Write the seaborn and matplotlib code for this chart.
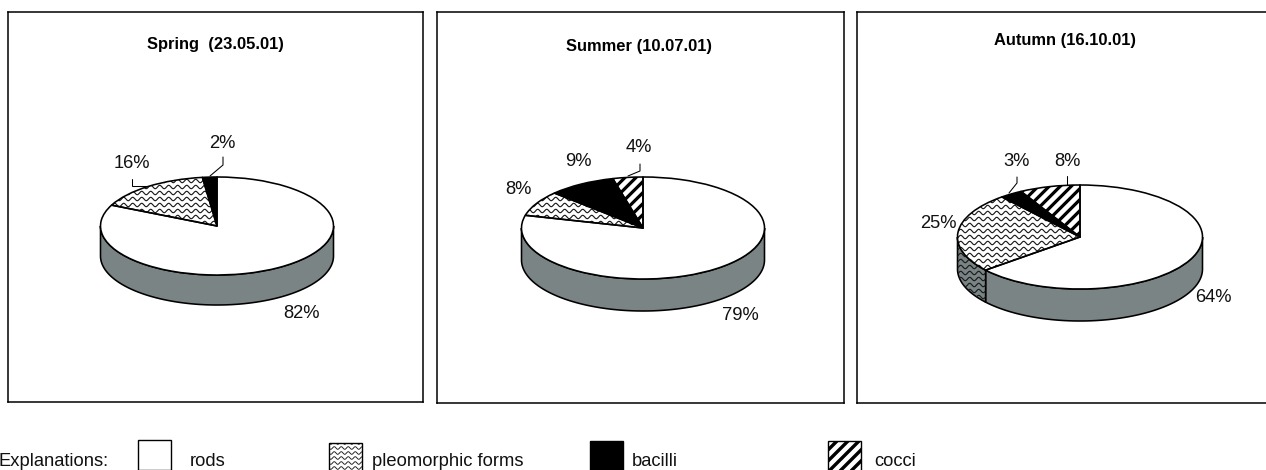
import numpy as np
import pandas as pd
import seaborn as sns
import matplotlib
matplotlib.use("Agg")
import matplotlib.pyplot as plt
from matplotlib.lines import Line2D
from matplotlib.patches import PathPatch, Polygon, Rectangle

# Cell-type shares per sampling date, in percent
seasons = ["Spring  (23.05.01)", "Summer (10.07.01)", "Autumn (16.10.01)"]
categories = ["rods", "pleomorphic forms", "bacilli", "cocci"]
rods = [82, 79, 64]
pleomorphic = [16, 8, 25]
bacilli = [2, 9, 3]
cocci = [0, 4, 8]

W, H = 1266, 470
WALL = "#7a8484"

sns.set_theme(style="white", rc={"axes.facecolor": "white"})
plt.rcParams["font.family"] = ["Liberation Sans", "DejaVu Sans"]

shares = pd.DataFrame({"rods": rods, "pleomorphic forms": pleomorphic,
                       "bacilli": bacilli, "cocci": cocci}, index=seasons)

# Panel frame, disc geometry, title and label placement, all in pixels
panels = [
    dict(box=(8, 12, 423, 402), c=(217, 226), rx=116.5, ry=49, depth=30, title=(215, 44),
         labels=[(302, 313), (132, 164), (222, 143), None],
         leaders=[None, [(132, 179), (132, 186), (147, 186)],
                  [(223, 157), (223, 165), (210, 176)], None]),
    dict(box=(437, 12, 844, 403), c=(643, 228), rx=121.5, ry=51, depth=32, title=(639, 47),
         labels=[(740, 316), (518, 190), (578, 162), (639, 148)],
         leaders=[None, None, None, [(640, 164), (640, 171), (628, 176)]]),
    dict(box=(857, 12, 1275, 403), c=(1080, 237), rx=122.5, ry=52, depth=32, title=(1065, 40),
         labels=[(1213, 297), (938, 223), (1017, 162), (1067, 162)],
         leaders=[None, None, [(1017, 177), (1017, 183), (1009, 193)],
                  [(1067, 176), (1067, 185)]]),
]

fig = plt.figure(figsize=(W / 100, H / 100), dpi=100, facecolor="white")
overlay = fig.add_axes([0, 0, 1, 1], zorder=10)
overlay.set_xlim(0, W)
overlay.set_ylim(H, 0)
overlay.axis("off")
overlay.patch.set_alpha(0)


def waves(ax, clip, extent, color="#1a1a1a", row=6.0, length=9.0, amp=1.7, lw=1.15):
    """Fill a patch with rows of horizontal wavy lines."""
    x0, y0, x1, y1 = extent
    xs = np.arange(x0, x1 + 0.5, 0.5)
    for y in np.arange(y0, y1 + row, row):
        line = Line2D(xs, y + amp * np.sin(2 * np.pi * xs / length), color=color,
                      lw=lw * 0.72, transform=overlay.transData, zorder=1.5)
        ax.add_line(line)
        line.set_clip_path(clip)


def stripes(ax, clip, extent, spacing=11.0, lw=3.2):
    """Fill a patch with thick rising diagonal stripes."""
    x0, y0, x1, y1 = extent
    span = (x1 - x0) + (y1 - y0)
    for s in np.arange(x0 - 2, x0 + span + spacing, spacing):
        line = Line2D([s - (y1 - y0), s], [y1, y0], color="black", lw=lw * 0.72,
                      transform=overlay.transData, zorder=1.5, solid_capstyle="butt")
        ax.add_line(line)
        line.set_clip_path(clip)


for season, p in zip(seasons, panels):
    l, t, r, b = p["box"]
    cx, cy = p["c"]
    rx, ry = p["rx"], p["ry"]
    ax = fig.add_axes([l / W, 1 - b / H, (r - l) / W, (b - t) / H])
    values = shares.loc[season].to_numpy(dtype=float)
    kept = [i for i, v in enumerate(values) if v > 0]
    fills = {0: "white", 1: "white", 2: "black", 3: "white"}
    wedges, _ = ax.pie(values[kept], startangle=90, counterclock=False, radius=1,
                       colors=[fills[i] for i in kept],
                       wedgeprops=dict(edgecolor="none", linewidth=0))
    # The pie call fixes an equal aspect; the tilted disc needs independent scales
    ax.set_aspect("auto")
    ax.set_xlim((l - cx) / rx, (r - cx) / rx)
    ax.set_ylim((cy - b) / ry, (cy - t) / ry)
    ax.set_frame_on(True)
    for spine in ax.spines.values():
        spine.set_visible(True)
        spine.set_color("black")
        spine.set_linewidth(1.1)
    ax.set_xticks([])
    ax.set_yticks([])

    extent = (cx - rx - 2, cy - ry - 2, cx + rx + 2, cy + ry + p["depth"] + 2)
    for i, w in zip(kept, wedges):
        w.set_zorder(1)
        if categories[i] == "pleomorphic forms":
            waves(ax, w, extent)
        elif categories[i] == "cocci":
            stripes(ax, w, extent)
        # Outline on top of the texture
        ax.add_patch(PathPatch(w.get_path(), fill=False, ec="black", lw=1.15, zorder=3,
                               transform=w.get_transform(), joinstyle="round"))

    # Side wall: the part of each slice's rim on the near half of the disc
    edges = np.r_[0, np.cumsum(values)] * 3.6
    dy = p["depth"] / ry
    for i in range(len(values)):
        start, stop = max(edges[i], 90), min(edges[i + 1], 270)
        if stop <= start:
            continue
        theta = np.radians(np.linspace(start, stop, 120))
        x, y = np.sin(theta), np.cos(theta)
        outline = np.c_[np.r_[x, x[::-1]], np.r_[y, y[::-1] - dy]]
        wall = Polygon(outline, closed=True, fc=WALL, ec="black", lw=1.15, zorder=0.5)
        ax.add_patch(wall)
        if categories[i] == "pleomorphic forms":
            waves(ax, wall, extent)

    overlay.text(*p["title"], season, ha="center", va="center", fontsize=11.9, fontweight="bold",
                 color="black")
    for v, pos, leader in zip(values, p["labels"], p["leaders"]):
        if pos is not None:
            overlay.text(*pos, f"{v:.0f}%", ha="center", va="center", fontsize=13.2, color="#111111")
        if leader is not None:
            xs, ys = zip(*leader)
            overlay.plot(xs, ys, color="black", lw=0.75, solid_joinstyle="miter")
    overlay.set_xlim(0, W)
    overlay.set_ylim(H, 0)

# Key along the bottom edge
overlay.text(-1, 461, "Explanations:", ha="left", va="center", fontsize=13.2, color="#111111")
key = [(138, 440, 33, 30, 190), (329, 443, 33, 28, 372), (590, 441, 33, 30, 632), (828, 441, 33, 30, 874)]
for name, (x, y, w, h, tx) in zip(categories, key):
    face = "black" if name == "bacilli" else "white"
    overlay.add_patch(Rectangle((x, y), w, h, fc=face, ec="none", zorder=1))
    clip = Rectangle((x, y), w, h, fc="none", ec="none", transform=overlay.transData)
    overlay.add_patch(clip)
    if name == "pleomorphic forms":
        waves(overlay, clip, (x, y, x + w, y + h), row=5.0, length=7.0, amp=1.3, lw=0.9)
    elif name == "cocci":
        stripes(overlay, clip, (x, y, x + w, y + h), spacing=11, lw=3.4)
    overlay.add_patch(Rectangle((x, y), w, h, fill=False, ec="black", lw=1.0, zorder=2))
    overlay.text(tx, 461, name, ha="left", va="center", fontsize=13.2, color="#111111")

fig.savefig("out.png", dpi=100)
